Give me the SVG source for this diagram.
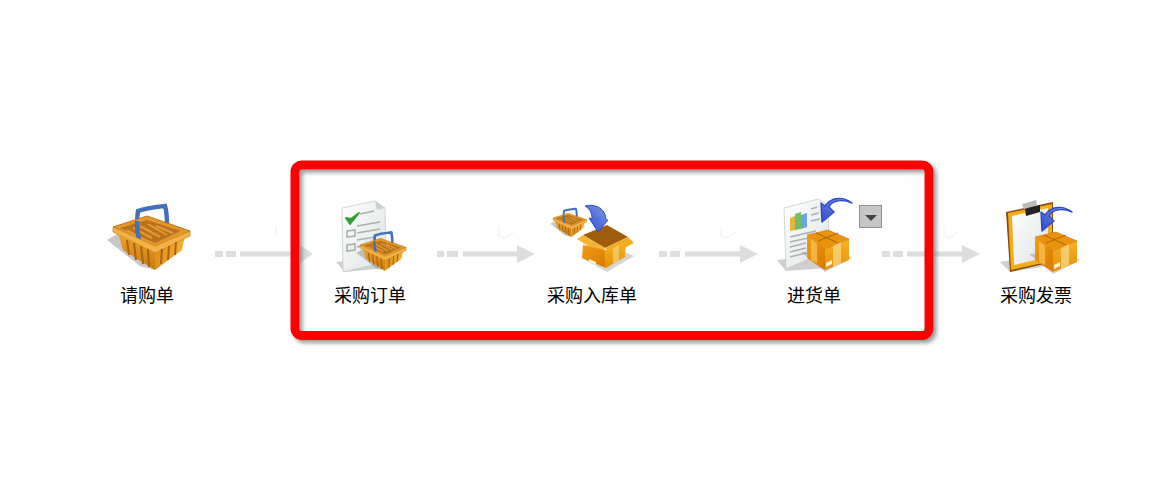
<svg xmlns="http://www.w3.org/2000/svg" xmlns:xlink="http://www.w3.org/1999/xlink" width="1175" height="480" viewBox="0 0 1175 480">
<style>
.lbl{font-family:"Noto Sans CJK SC","Liberation Sans",sans-serif;font-size:18px;fill:#000;text-anchor:middle}
.conn path{fill:#ddd}
.conn rect{fill:#ddd}
.conn .mark{fill:none;stroke:#f5f5f5;stroke-width:1.5}
.ln{stroke:#aab0b0;stroke-width:1.6;fill:none}
.icon{filter:url(#soft)}
</style>
<defs>
<filter id="soft" x="-10%" y="-10%" width="120%" height="120%"><feGaussianBlur stdDeviation="0.45"/></filter>
<filter id="sh" x="-5%" y="-10%" width="110%" height="120%"><feDropShadow dx="3" dy="3" stdDeviation="2" flood-color="#777" flood-opacity="0.75"/></filter>
<linearGradient id="bk" x1="0" y1="0" x2="0" y2="1"><stop offset="0" stop-color="#eda52e"/><stop offset="1" stop-color="#c97808"/></linearGradient>
<linearGradient id="bkr" x1="0" y1="0" x2="1" y2="0"><stop offset="0" stop-color="#e1901a"/><stop offset="1" stop-color="#f2b335"/></linearGradient>
<linearGradient id="bx" x1="0" y1="0" x2="1" y2="1"><stop offset="0" stop-color="#f49c10"/><stop offset="1" stop-color="#d97a02"/></linearGradient>
<linearGradient id="bx2" x1="0" y1="0" x2="0" y2="1"><stop offset="0" stop-color="#f5b42a"/><stop offset="1" stop-color="#e48f06"/></linearGradient>
<linearGradient id="pg" x1="0" y1="0" x2="1" y2="1"><stop offset="0" stop-color="#fff"/><stop offset="1" stop-color="#dde2e2"/></linearGradient>
<linearGradient id="bl" x1="1" y1="0" x2="0" y2="1"><stop offset="0" stop-color="#7f9be8"/><stop offset="1" stop-color="#2f49cc"/></linearGradient>
<g id="basket">
<path d="M107 240 L121 232 L155 270 L140 266Z" fill="#999" opacity=".55"/>
<path d="M139 238 C137 226 137 216 138 211 C146 208 156 207 165 206 C167 212 167 218 167 226" fill="none" stroke="#3f6fbe" stroke-width="4.4"/>
<path d="M113 227 L147 216 L190 231 L155 248Z" fill="#e4972a" stroke="#bb7514" stroke-width="1"/>
<path d="M120 228 L147 220 L181 231 L155 243Z" fill="#b8721c"/>
<path d="M127 230 L145 240M133 228 L152 238M140 226 L160 237M148 224 L167 235M156 226 L173 233" stroke="#e39a32" stroke-width="2" fill="none"/>
<path d="M139 240 C137 232 137 226 137 221" fill="none" stroke="#3f6fbe" stroke-width="4.4"/>
<path d="M118 233 L155 250 L155 270 L123 250Z" fill="url(#bk)"/>
<path d="M155 250 L185 236 L182 250 L155 270Z" fill="url(#bkr)"/>
<path d="M113 227 L155 246 L190 231 L190 236 L155 253 L113 232Z" fill="#f2b246" stroke="#c5821c" stroke-width=".7"/>
<path d="M127 240 L129 255M134 243 L136 260M141 246 L143 264M148 249 L149 267M162 249 L161 264M169 246 L168 260M176 242 L175 255" stroke="#a9620e" stroke-width="2" fill="none"/>
</g>
<g id="box">
<path d="M801 252 L825 272 L852 258 L840 250Z" fill="#888" opacity=".4"/>
<path d="M825 249 L849 239 L849 260 L825 270Z" fill="url(#bx2)"/>
<path d="M807 235 L828 230 L849 239 L825 249Z" fill="#ea9410" stroke="#c9780a" stroke-width=".6"/>
<path d="M816 233 L838 243M818 241 L838 233" stroke="#a8600a" stroke-width="1" fill="none"/>
<path d="M807 235 L825 249 L825 270 L807 258Z" fill="url(#bx)"/>
<path d="M811 239 L817 244 L817 263 L811 260Z" fill="#f6bf52" opacity=".8"/>
<path d="M833 246 L841 242 L841 263 L833 267Z" fill="#f9da8a" opacity=".7"/>
<path d="M826 263 L832 260 L832 264 L826 267Z" fill="#fff3d0"/>
</g>
<path id="blue" d="M852 203 C843 199 832 200 829 207 L834 212 L822 222 L821 203 L825 206 C831 197 843 196 852 203Z" fill="url(#bl)" stroke="#2f49cc" stroke-width="1.4" stroke-linejoin="round"/>
</defs>

<g class="conn" id="connectors">
<g><rect x="215" y="251" width="8" height="6"/><rect x="226" y="251" width="10" height="6"/><path d="M240 251.500H300V245L313 254L300 263V256.500H240Z"/><path class="mark" d="M276 226V236"/></g>
<g><rect x="437" y="251" width="7" height="6"/><rect x="447" y="251" width="11" height="6"/><path d="M463 251.500H517V245L535 254L517 263V256.500H463Z"/><path class="mark" d="M499 227V236L505 238L514 232"/></g>
<g><rect x="659" y="251" width="8" height="6"/><rect x="670" y="251" width="10" height="6"/><path d="M685 251.500H740V245L758 254L740 263V256.500H685Z"/><path class="mark" d="M721 227V236L727 238L736 232"/></g>
<g><rect x="882" y="251" width="8" height="6"/><rect x="893" y="251" width="10" height="6"/><path d="M907 251.500H962V245L980 254L962 263V256.500H907Z"/><path class="mark" d="M944 227V236L950 238L958 232"/></g>
</g>

<g id="frame"><rect x="295" y="165" width="634" height="170.500" rx="7" fill="none" stroke="#fe0000" stroke-width="9" filter="url(#sh)"/></g>

<g id="node-qgd">
<g class="icon"><use href="#basket"/></g>
<text class="lbl" x="147" y="302">请购单</text>
</g>

<g id="node-cgdd">
<g class="icon">
<path d="M336 262 L345 272 L385 268 L375 258Z" fill="#888" opacity=".4"/>
<path d="M342 208 L375 201 L385 208 L386 262 L343 272Z" fill="url(#pg)" stroke="#c8cccc" stroke-width=".8"/>
<path d="M375 201 L377 210 L385 208Z" fill="#c9cfcf"/>
<path d="M346 218 L350 224 L359 213 L351 219Z" fill="#2fa02f" stroke="#2fa02f" stroke-width="1.8" stroke-linejoin="round"/>
<path class="ln" d="M360 214 L374 211M357 226 L380 222M357 233 L380 229M357 240 L375 237M357 247 L365 245"/>
<path class="ln" d="M347 231 L355 230 L355 236 L347 237ZM347 245 L355 244 L355 250 L347 251Z" stroke-width="1"/>
<use href="#basket" transform="translate(360 245) scale(.6) translate(-113 -227)"/>
</g>
<text class="lbl" x="370" y="302">采购订单</text>
</g>

<g id="node-cgrkd">
<g class="icon">
<use href="#basket" transform="translate(553 218) scale(.44) translate(-113 -227)"/>
<path d="M581 258 L607 272 L634 256 L620 250Z" fill="#888" opacity=".35"/>
<path d="M583 235 L607 225 L628 237 L605 248Z" fill="#a05c08"/>
<path d="M577 239 L583 235 L605 248 L600 254Z" fill="#f4b438"/>
<path d="M628 237 L634 243 L611 255 L605 248Z" fill="#f5ac20"/>
<path d="M583 245 L605 250 L606 268 L582 258Z" fill="url(#bx)"/>
<path d="M605 250 L626 242 L625 257 L606 268Z" fill="url(#bx2)"/>
<path d="M589 259 L596 262 L596 265 L589 262Z" fill="#fff3d0"/>
<path d="M613 248 L619 245 L619 261 L613 264Z" fill="#f9da8a" opacity=".6"/>
<path d="M585 206 C597 203 606 210 606 220 L608 220 L598 232 L589 218 L592 219 C592 213 590 209 585 206Z" fill="url(#bl)" stroke="#2f49cc" stroke-width="1" stroke-linejoin="round"/>
</g>
<text class="lbl" x="592" y="302">采购入库单</text>
</g>

<g id="node-jhd">
<g class="icon">
<path d="M777 260 L786 271 L826 268 L812 256Z" fill="#888" opacity=".4"/>
<path d="M784 208 L818 199 L828 205 L829 250 L786 269Z" fill="url(#pg)" stroke="#c8cccc" stroke-width=".8"/>
<path d="M790 218 L795 216 L795 230 L790 231Z" fill="#e8b33c"/>
<path d="M795 214 L801 212 L801 229 L795 230Z" fill="#6fc069"/>
<path d="M801 215 L807 213 L807 227 L801 229Z" fill="#6ea5dc"/>
<path class="ln" d="M811 209 L817 207M811 215 L819 213M811 221 L820 219M790 237 L816 231M790 242 L808 238M790 247 L806 243M790 252 L806 248M790 257 L806 253"/>
<use href="#blue"/>
<use href="#box"/>
</g>
<g id="dropdown"><rect x="859.500" y="205.500" width="22" height="22" fill="#c6c6c6" stroke="#8f8f8f"/><path d="M865 215H877L871 221Z" fill="#444"/></g>
<text class="lbl" x="814" y="302">进货单</text>
</g>

<g id="node-cgfp">
<g class="icon">
<path d="M1000 262 L1010 272 L1048 266 L1036 256Z" fill="#888" opacity=".4"/>
<path d="M1006 212 L1053 202 L1053 262 L1010 272Z" fill="#8c4c10"/>
<path d="M1008 213 L1052 204 L1052 261 L1011 270Z" fill="#f2ae18"/>
<path d="M1012 216 L1048 208 L1048 257 L1014 265Z" fill="url(#pg)"/>
<path d="M1025 209 L1040 205 L1040 212 L1026 216Z" fill="#222"/>
<path d="M1022 204 L1036 200 L1037 205 L1024 209Z" fill="#b8bcbc"/>
<use href="#blue" transform="translate(220 9)"/>
<use href="#box" transform="translate(228 2)"/>
</g>
<text class="lbl" x="1036" y="302">采购发票</text>
</g>
</svg>
